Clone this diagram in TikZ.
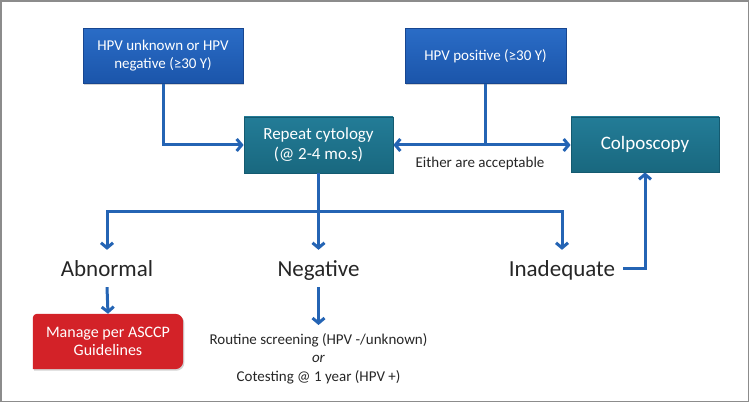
\documentclass[tikz,border=0pt]{standalone}
\usepackage{fontspec}
\setmainfont{Carlito}
\usetikzlibrary{arrows.meta,shadows,backgrounds}
\definecolor{arr}{HTML}{2464B4}
\definecolor{blueT}{HTML}{2A6CC6}
\definecolor{blueB}{HTML}{1B55AA}
\definecolor{blueD}{HTML}{174690}
\definecolor{tealT}{HTML}{237C97}
\definecolor{tealB}{HTML}{19687F}
\definecolor{tealD}{HTML}{145A70}
\definecolor{redT}{HTML}{E2282E}
\definecolor{redB}{HTML}{C91E24}
\definecolor{txt}{HTML}{262626}
\definecolor{framec}{HTML}{8C8C8C}
\begin{document}
\begin{tikzpicture}[x=1pt,y=-1pt,
  boxshadow/.style={drop shadow={opacity=0.35,shadow xshift=1.2pt,shadow yshift=-1.5pt}},
  bluebox/.style={draw=blueD, line width=0.8pt, top color=blueT, bottom color=blueB,
     text=white, minimum width=160pt, minimum height=55pt, align=center,
     font=\fontsize{15}{18}\selectfont, boxshadow},
  tealbox/.style={draw=tealD, line width=0.8pt, top color=tealT, bottom color=tealB,
     text=white, minimum height=55pt, align=center, boxshadow},
  outcome/.style={text=txt, font=\fontsize{23}{27}\selectfont, anchor=base,
     inner xsep=8pt, inner ysep=10pt, text height=17pt, text depth=0pt},
  line/.style={draw=arr, line width=3pt},
  conn/.style={line, -{Straight Barb[length=5pt,width=12pt]}},
  dconn/.style={line, {Straight Barb[length=5pt,width=12pt]}-{Straight Barb[length=5pt,width=12pt]}}
]
\useasboundingbox (0,0) rectangle (750,403);
\draw[framec, line width=1.5pt] (1,1) rectangle (748.5,401.5);

\node[bluebox] (b1) at (163,56) {HPV unknown or HPV\\negative (≥30 Y)};
\node[bluebox, minimum width=161pt] (b2) at (485.5,56) {HPV positive (≥30 Y)};
\node[tealbox, minimum width=149pt, minimum height=56pt, font=\fontsize{17}{20}\selectfont] (rep) at (318.5,145) {Repeat cytology\\(@ 2-4 mo.s)};
\node[tealbox, minimum width=148pt, font=\fontsize{19}{22}\selectfont] (col) at (645,144.5) {Colposcopy};

\node[text=txt, font=\fontsize{15}{18}\selectfont] (either) at (480,164) {Either are acceptable};

\node[outcome] (abn) at (107,277) {Abnormal};
\node[outcome] (neg) at (318.5,277) {Negative};
\node[outcome] (inad) at (562,277) {Inadequate};

\node[text=white, minimum width=150pt, minimum height=55pt, align=center,
      font=\fontsize{16}{18}\selectfont] (mg) at (108,341.5) {Manage per ASCCP\\Guidelines};
\begin{scope}[on background layer]
\fill[redT!40!redB, drop shadow={opacity=0.35,shadow xshift=1.2pt,shadow yshift=-1.5pt}]
  (mg.south west) [rounded corners=4pt] -- (mg.north west) [rounded corners=8pt] -- (mg.north east)
  -- (mg.south east) [sharp corners] -- cycle;
\end{scope}

\node[text=txt, align=center, font=\fontsize{15}{18.5}\selectfont, anchor=north,
      inner xsep=3pt, inner ysep=8pt]
  (rout) at (318.5,325) {Routine screening (HPV -/unknown)\\\textit{or}\\Cotesting @ 1 year (HPV +)};

\draw[conn] (b1.south) |- (rep.west);
\coordinate (j) at (b2.south |- rep.east);
\draw[line] (b2.south) -- (j);
\draw[dconn] (rep.east) -- (rep.east -| col.west);

\coordinate (split) at (318.5,212);
\draw[line] (rep.south) -- (split);
\draw[conn] (split) -| (abn.north);
\draw[conn] (split) -| (inad.north);
\draw[conn] (split) -- (neg.north);
\draw[conn] (inad.east) -| (col.south);
\draw[conn] (abn.south) -- (mg.north);
\draw[conn] (neg.south) -- (rout.north);
\end{tikzpicture}
\end{document}
